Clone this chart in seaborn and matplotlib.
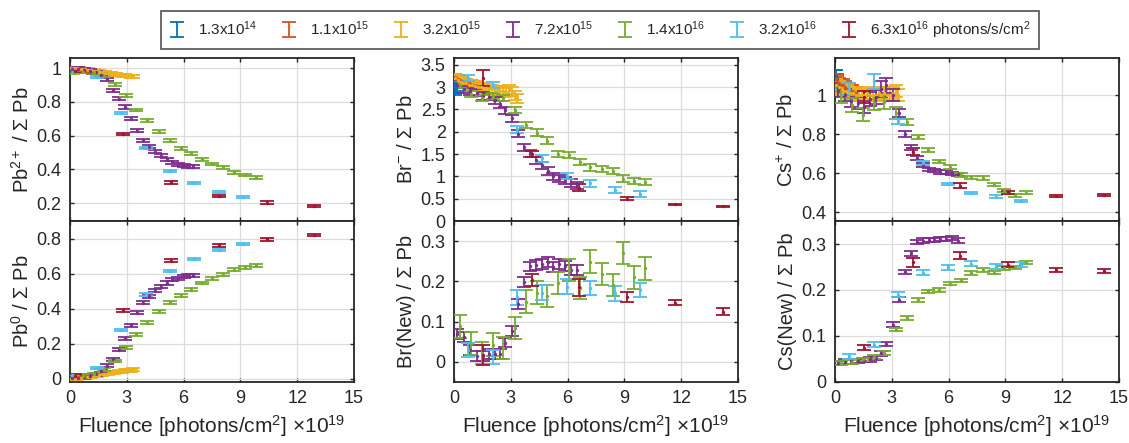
import numpy as np
import pandas as pd
import matplotlib
matplotlib.use("Agg")
import matplotlib.pyplot as plt
import seaborn as sns
from matplotlib.ticker import FuncFormatter, MultipleLocator

sns.set_theme(style="ticks")
plt.rcParams["font.family"] = ["Liberation Sans", "DejaVu Sans"]
plt.rcParams["mathtext.fontset"] = "custom"
plt.rcParams["mathtext.rm"] = "Liberation Sans"
plt.rcParams["mathtext.it"] = "Liberation Sans"

# legend labels and MATLAB default colours
labels = ["1.3x10$^{14}$", "1.1x10$^{15}$", "3.2x10$^{15}$", "7.2x10$^{15}$",
          "1.4x10$^{16}$", "3.2x10$^{16}$", "6.3x10$^{16}$ photons/s/cm$^2$"]
colors = ["#0072BD", "#D95319", "#EDB120", "#7E2F8E", "#77AC30", "#4DBEEE", "#A2142F"]
series = ["blue", "orange", "yellow", "purple", "green", "cyan", "red"]

# ---- fluence (x10^19 photons/cm2) for the Pb panels
x_pb = {
    "blue": [0.0, 0.02, 0.04, 0.06, 0.08, 0.1, 0.12],
    "orange": [0.03, 0.12, 0.22, 0.32, 0.42, 0.52, 0.62, 0.72, 0.82, 0.92, 1.02, 1.12, 1.22],
    "yellow": [0.05, 0.2, 0.35, 0.5, 0.65, 0.8, 0.95, 1.1, 1.25, 1.4, 1.55, 1.7, 1.85, 2.0,
               2.15, 2.3, 2.45, 2.6, 2.75, 2.9, 3.05, 3.2, 3.35],
    "purple": [0.1, 0.4, 0.75, 1.05, 1.35, 1.65, 1.95, 2.28, 2.58, 2.9, 3.22, 3.52, 3.85,
               4.18, 4.48, 4.8, 5.1, 5.4, 5.7, 6.0, 6.25, 6.5],
    "green": [0.15, 0.7, 1.25, 1.8, 2.37, 2.95, 3.5, 4.09, 4.69, 5.27, 5.85, 6.4, 6.95,
              7.5, 8.08, 8.66, 9.26, 9.81],
    "cyan": [0.1, 1.4, 2.72, 4.0, 5.27, 6.56, 7.86, 9.14],
    "red": [0.26, 2.8, 5.33, 7.87, 10.4, 12.9],
}

# ---- fluence for the Br / Cs panels
x_brcs = {
    "blue": x_pb["blue"],
    "orange": x_pb["orange"],
    "yellow": x_pb["yellow"],
    "purple": [0.15, 0.55, 0.87, 1.2, 1.53, 1.87, 2.17, 2.45, 2.72, 3.05, 3.38, 3.7, 4.01,
               4.32, 4.63, 4.95, 5.25, 5.56, 5.87, 6.2, 6.52],
    "green": [0.32, 0.88, 1.5, 2.04, 2.6, 3.22, 3.8, 4.37, 4.92, 5.5, 6.08, 6.66, 7.2, 7.8,
              8.38, 8.92, 9.5, 10.1],
    "cyan": [0.75, 2.05, 3.35, 4.65, 5.95, 7.2, 8.52, 9.8],
    "red": [1.55, 4.1, 6.6, 9.14, 11.65, 14.2],
}

# ---- Pb2+ / sum Pb
pb2 = {
    "blue": [1.0, 0.995, 1.0, 0.99, 1.0, 0.995, 0.99],
    "orange": [1.0, 0.995, 0.995, 0.99, 0.99, 0.99, 0.985, 0.985, 0.985, 0.98, 0.98, 0.98, 0.975],
    "yellow": [1.0, 1.0, 0.998, 0.997, 0.995, 0.993, 0.99, 0.988, 0.985, 0.982, 0.979, 0.976,
               0.973, 0.97, 0.967, 0.965, 0.962, 0.96, 0.958, 0.956, 0.954, 0.952, 0.95],
    "purple": [0.995, 0.995, 0.99, 0.985, 0.975, 0.96, 0.935, 0.87, 0.82, 0.77, 0.70, 0.63,
               0.572, 0.535, 0.505, 0.48, 0.46, 0.443, 0.43, 0.423, 0.417, 0.415],
    "green": [0.975, 0.98, 0.975, 0.955, 0.905, 0.836, 0.753, 0.69, 0.624, 0.571, 0.526,
              0.496, 0.46, 0.433, 0.413, 0.383, 0.368, 0.354],
    "cyan": [0.98, 0.95, 0.735, 0.526, 0.39, 0.322, 0.269, 0.239],
    "red": [0.985, 0.61, 0.325, 0.243, 0.204, 0.184],
}

# ---- Pb0 / sum Pb
pb0 = {
    "blue": [0.005, 0.006, 0.005, 0.007, 0.006, 0.005, 0.006],
    "orange": [0.005, 0.006, 0.007, 0.008, 0.009, 0.01, 0.011, 0.012, 0.013, 0.014, 0.015, 0.016, 0.017],
    "yellow": [0.0, 0.0, 0.002, 0.003, 0.005, 0.007, 0.009, 0.011, 0.014, 0.017, 0.02, 0.023,
               0.026, 0.029, 0.032, 0.035, 0.037, 0.04, 0.042, 0.044, 0.046, 0.048, 0.05],
    "purple": [0.005, 0.005, 0.008, 0.015, 0.025, 0.045, 0.072, 0.11, 0.165, 0.23, 0.305,
               0.375, 0.432, 0.47, 0.502, 0.525, 0.546, 0.565, 0.572, 0.582, 0.588, 0.59],
    "green": [0.02, 0.015, 0.025, 0.05, 0.1, 0.175, 0.252, 0.318, 0.385, 0.436, 0.474, 0.508,
              0.546, 0.573, 0.593, 0.622, 0.635, 0.648],
    "cyan": [0.02, 0.06, 0.275, 0.48, 0.616, 0.683, 0.734, 0.768],
    "red": [0.015, 0.39, 0.673, 0.762, 0.796, 0.82],
}

# ---- Br- / sum Pb
br = {
    "blue": [3.05, 2.95, 3.1, 2.9, 3.0, 3.05, 2.95],
    "orange": [3.22, 3.2, 3.18, 3.15, 3.12, 3.1, 3.1, 3.08, 3.07, 3.05, 3.05, 3.03, 3.02],
    "yellow": [3.2, 3.15, 3.12, 3.1, 3.08, 3.05, 3.05, 3.03, 3.0, 3.0, 2.98, 2.97, 2.95, 2.95,
               2.93, 2.92, 2.9, 2.9, 2.88, 2.95, 2.9, 2.8, 2.75],
    "purple": [3.05, 2.95, 2.9, 2.87, 2.8, 2.78, 2.7, 2.6, 2.48, 2.3, 1.95, 1.65, 1.52, 1.36,
               1.25, 1.12, 1.0, 0.95, 0.9, 0.85, 0.8],
    "green": [3.05, 2.85, 2.75, 2.8, 2.75, 2.48, 2.15, 1.98, 1.8, 1.5, 1.48, 1.32, 1.2, 1.16,
              1.12, 0.95, 0.9, 0.87],
    "cyan": [3.2, 3.05, 2.05, 1.4, 1.0, 0.84, 0.7, 0.6],
    "red": [3.2, 1.5, 0.75, 0.5, 0.37, 0.33],
}

# ---- Br(New) / sum Pb
br_new = {
    "purple": [0.069, 0.062, 0.03, 0.014, 0.015, 0.02, 0.02, 0.02, 0.048, 0.076, 0.143, 0.198,
               0.237, 0.24, 0.243, 0.248, 0.235, 0.243, 0.238, 0.228, 0.228],
    "green": [0.088, 0.045, 0.022, 0.043, 0.035, 0.084, 0.15, 0.172, 0.164, 0.196, 0.228,
              0.183, 0.249, 0.218, 0.191, 0.27, 0.21, 0.232],
    "cyan": [0.03, 0.012, 0.16, 0.172, 0.187, 0.183, 0.17, 0.178],
    "red": [0.018, 0.204, 0.185, 0.162, 0.147, 0.125],
}

# ---- Cs+ / sum Pb
cs = {
    "blue": [1.1, 1.08, 1.06, 1.1, 1.04, 1.08, 1.05],
    "orange": [1.08, 1.07, 1.06, 1.05, 1.05, 1.04, 1.03, 1.03, 1.02, 1.02, 1.01, 1.01, 1.0],
    "yellow": [1.05, 1.04, 1.03, 1.02, 1.02, 1.01, 1.01, 1.0, 1.0, 1.0, 1.0, 1.01, 1.0, 1.0,
               1.0, 1.01, 1.0, 1.01, 1.0, 1.0, 1.01, 1.02, 1.0],
    "purple": [1.02, 1.0, 0.97, 0.96, 0.94, 0.98, 0.99, 1.03, 1.05, 1.0, 0.91, 0.80, 0.73,
               0.676, 0.64, 0.62, 0.615, 0.606, 0.606, 0.6, 0.595],
    "green": [0.99, 0.95, 0.90, 0.96, 0.965, 0.91, 0.86, 0.785, 0.72, 0.66, 0.633, 0.592,
              0.58, 0.575, 0.54, 0.51, 0.487, 0.50],
    "cyan": [1.03, 1.07, 0.865, 0.65, 0.545, 0.50, 0.48, 0.457],
    "red": [0.99, 0.711, 0.536, 0.501, 0.484, 0.489],
}

# ---- Cs(New) / sum Pb
cs_new = {
    "purple": [0.041, 0.044, 0.045, 0.046, 0.048, 0.049, 0.052, 0.062, 0.083, 0.125, 0.179,
               0.239, 0.28, 0.304, 0.307, 0.309, 0.309, 0.311, 0.311, 0.313, 0.307],
    "green": [0.041, 0.043, 0.049, 0.054, 0.063, 0.114, 0.139, 0.179, 0.197, 0.2, 0.214,
              0.221, 0.237, 0.243, 0.238, 0.248, 0.249, 0.26],
    "cyan": [0.056, 0.081, 0.19, 0.238, 0.249, 0.257, 0.251, 0.255],
    "red": [0.075, 0.26, 0.275, 0.255, 0.243, 0.242],
}

# error bar half-heights
err_pb = {"blue": 0.008, "orange": 0.008, "yellow": 0.008, "purple": 0.009, "green": 0.008,
          "cyan": 0.006, "red": 0.008}
err_br = {"blue": 0.08, "orange": 0.08, "yellow": 0.1, "purple": 0.08, "green": 0.07,
          "cyan": 0.07, "red": [0.18, 0.06, 0.07, 0.03, 0.01, 0.015]}
err_br_new = {"purple": 0.012, "green": 0.028, "cyan": 0.018,
              "red": [0.025, 0.015, 0.022, 0.012, 0.006, 0.008]}
err_cs = {"blue": 0.03, "orange": 0.03, "yellow": 0.03,
          "purple": [0.03, 0.03, 0.03, 0.03, 0.03, 0.035, 0.035, 0.04, 0.04, 0.03, 0.02, 0.015,
                     0.012, 0.01, 0.01, 0.008, 0.008, 0.008, 0.008, 0.008, 0.008],
          "green": [0.03, 0.035, 0.035, 0.035, 0.035, 0.03, 0.015, 0.012, 0.01, 0.01, 0.01,
                    0.01, 0.008, 0.008, 0.008, 0.008, 0.008, 0.008],
          "cyan": [0.03, 0.04, 0.012, 0.01, 0.006, 0.006, 0.006, 0.006],
          "red": [0.03, 0.02, 0.012, 0.008, 0.005, 0.005]}
err_cs_new = {"purple": 0.005, "green": 0.004, "cyan": 0.005,
              "red": [0.005, 0.01, 0.008, 0.005, 0.004, 0.004]}

W, H = 1129, 443
fig = plt.figure(figsize=(W / 100, H / 100), dpi=100)


def px_axes(x0, x1, ytop, ybot):
    return fig.add_axes([x0 / W, 1 - ybot / H, (x1 - x0) / W, (ybot - ytop) / H])


fmt = FuncFormatter(lambda v, p: f"{v:g}")


def draw(ax, xs, ys, errs, ylabel, ylim, ystep, bottom):
    handles = []
    for name, c in zip(series, colors):
        if name not in ys:
            handles.append(None)
            continue
        x = np.asarray(xs[name], float)
        y = np.asarray(ys[name], float)
        e = np.broadcast_to(np.asarray(errs[name], float), y.shape)
        h = ax.errorbar(x, y, yerr=e, fmt="none", ecolor=c, elinewidth=1.3,
                        capsize=5, capthick=1.3, zorder=3)
        df = pd.DataFrame({"x": x, "y": y})
        sns.scatterplot(data=df, x="x", y="y", ax=ax, color=c, s=6, linewidth=0,
                        zorder=4, legend=False)
        handles.append(h)
    ax.set_xlim(0, 15)
    ax.set_ylim(*ylim)
    ax.xaxis.set_major_locator(MultipleLocator(3))
    ax.yaxis.set_major_locator(MultipleLocator(ystep))
    ax.yaxis.set_major_formatter(fmt)
    ax.grid(True, color="#dcdcdc", linewidth=0.9)
    ax.set_axisbelow(True)
    ax.tick_params(direction="in", top=True, right=True, length=3, width=1,
                   labelsize=13, colors="#262626", pad=6)
    for s in ax.spines.values():
        s.set_linewidth(1.3)
        s.set_color("#262626")
    ax.set_ylabel(ylabel, fontsize=14.5, labelpad=3)
    ax.set_xlabel("")
    if bottom:
        ax.xaxis.set_major_formatter(fmt)
        ax.set_xlabel(r"Fluence [photons/cm$^2$] $\times$10$^{19}$", fontsize=15, labelpad=4)
    else:
        ax.tick_params(labelbottom=False)
    return handles


cols = [(70, 354), (454, 738), (835, 1119)]
top, mid, bot = 58, 221, 382

ax = px_axes(*cols[0], top, mid)
handles = draw(ax, x_pb, pb2, err_pb, "Pb$^{2+}$ / Σ Pb", (0.095, 1.06), 0.2, False)
ax = px_axes(*cols[0], mid, bot)
draw(ax, x_pb, pb0, err_pb, "Pb$^{0}$ / Σ Pb", (-0.02, 0.9), 0.2, True)

ax = px_axes(*cols[1], top, mid)
draw(ax, x_brcs, br, err_br, "Br$^{-}$ / Σ Pb", (0, 3.65), 0.5, False)
ax = px_axes(*cols[1], mid, bot)
draw(ax, x_brcs, br_new, err_br_new, "Br(New) / Σ Pb", (-0.05, 0.35), 0.1, True)

ax = px_axes(*cols[2], top, mid)
draw(ax, x_brcs, cs, err_cs, "Cs$^{+}$ / Σ Pb", (0.355, 1.19), 0.2, False)
ax = px_axes(*cols[2], mid, bot)
draw(ax, x_brcs, cs_new, err_cs_new, "Cs(New) / Σ Pb", (0, 0.35), 0.1, True)

leg = fig.legend(handles, labels, loc="center", bbox_to_anchor=(600 / W, 1 - 30 / H),
                 ncol=7, fontsize=11, frameon=True, fancybox=False, edgecolor="#262626",
                 handlelength=1.0, handletextpad=0.9, columnspacing=1.55,
                 borderpad=0.55)
leg.get_frame().set_linewidth(1.2)

fig.savefig("out.png", dpi=100)
